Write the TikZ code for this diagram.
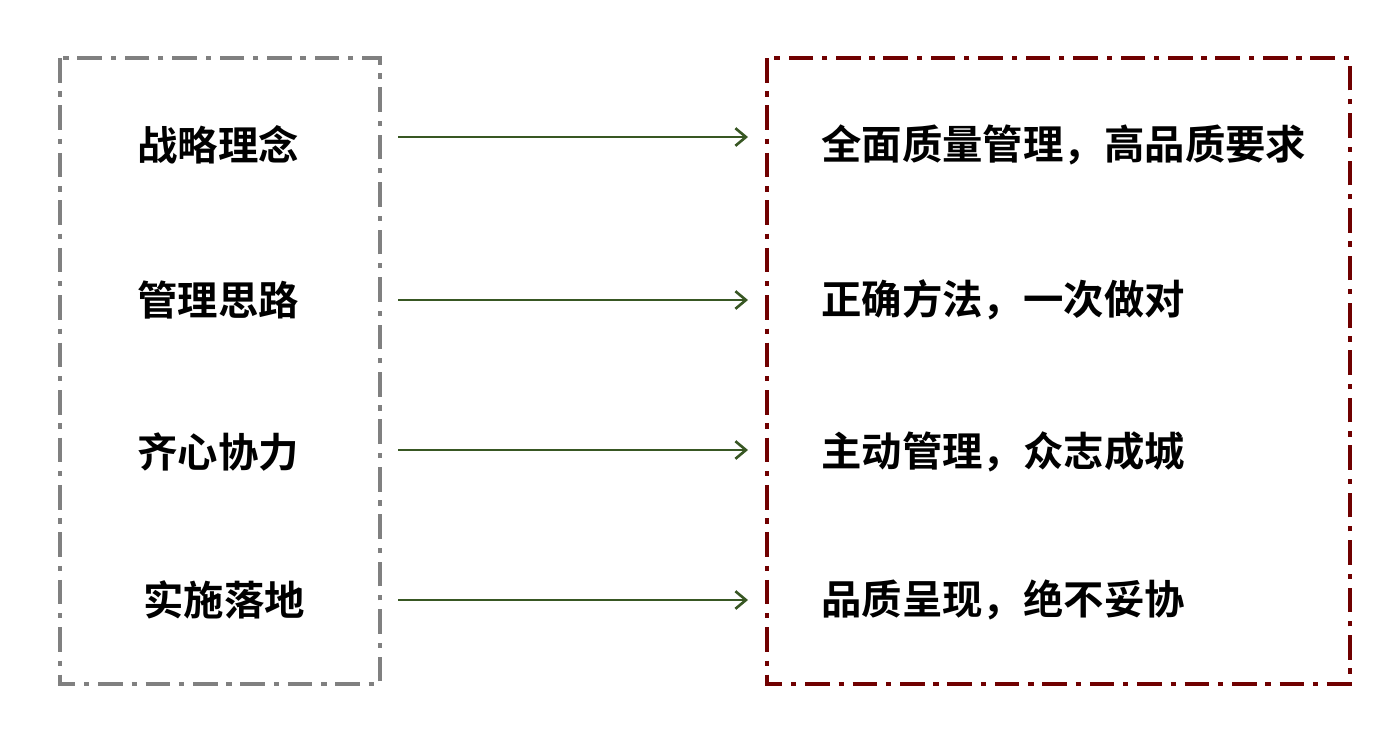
\documentclass[tikz,border=0pt]{standalone}
\usepackage{fontspec}
\newfontfamily\cjk{Noto Sans CJK SC Bold}
\usetikzlibrary{arrows.meta}
\definecolor{gbox}{RGB}{128,128,128}
\definecolor{rbox}{RGB}{112,0,0}
\definecolor{garr}{RGB}{56,87,35}
\tikzset{
 dbox/.style={line width=2.2pt, dash pattern=on 14pt off 5pt on 3pt off 5pt},
 lbl/.style={font=\cjk\fontsize{23pt}{27pt}\selectfont, inner sep=0pt},
 arr/.style={draw=garr, line width=1.5pt, -{Straight Barb[length=6pt,width=10pt]}}
}
\begin{document}
\begin{tikzpicture}[x=0.02cm,y=-0.02cm]
\useasboundingbox (0,0) rectangle (1383,735);
\draw[dbox,gbox] (60,58) rectangle (380,684);
\draw[dbox,rbox] (767,58) rectangle (1350,684);
\node[lbl] (l1) at (218,145) {战略理念};
\node[lbl] (l2) at (218,300) {管理思路};
\node[lbl] (l3) at (218,452) {齐心协力};
\node[lbl] (l4) at (224,600) {实施落地};
\node[lbl,anchor=west] (r1) at (821,145) {全面质量管理，高品质要求};
\node[lbl,anchor=west] (r2) at (821,300) {正确方法，一次做对};
\node[lbl,anchor=west] (r3) at (821,452) {主动管理，众志成城};
\node[lbl,anchor=west] (r4) at (821,600) {品质呈现，绝不妥协};
\coordinate (a1) at (398,137); \coordinate (b1) at (748,137);
\coordinate (a2) at (398,300); \coordinate (b2) at (748,300);
\coordinate (a3) at (398,450); \coordinate (b3) at (748,450);
\coordinate (a4) at (398,600); \coordinate (b4) at (748,600);
\foreach \i in {1,2,3,4} \draw[arr] (a\i) -- (b\i);
\end{tikzpicture}
\end{document}
